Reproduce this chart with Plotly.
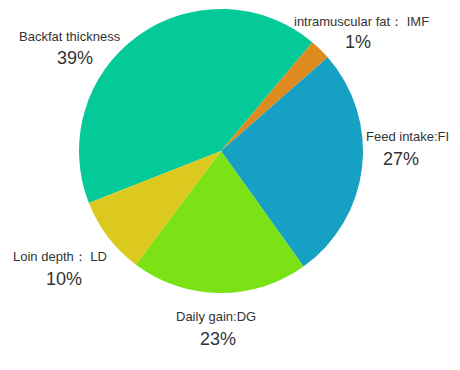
import plotly.graph_objects as go

# Slice sizes (clockwise, starting with Backfat)
labels = ["Backfat thickness", "intramuscular fat： IMF", "Feed intake:FI",
          "Daily gain:DG", "Loin depth： LD"]
values = [42.1, 2.4, 26.6, 20.1, 8.8]
pct_text = ["39%", "1%", "27%", "23%", "10%"]
colors = ["#04CA9A", "#DE8A1F", "#16A0C3", "#7BE216", "#DBC91F"]

# Page has an 8px body margin; figure is sized/offset to compensate
W, H = 452, 354
OFF = 8
cx, cy, R = 221 - OFF, 151 - OFF, 142

# label anchor positions (page pixels): name centre, percent centre
name_pos = [(70, 37), (361, 21), (407, 137), (216, 316), (60, 256)]
pct_pos = [(75, 58), (358, 42), (401, 159), (218, 339), (64, 279)]

FONT = "Liberation Sans, Arial, sans-serif"

fig = go.Figure(go.Pie(
    labels=labels,
    values=values,
    sort=False,
    direction="clockwise",
    rotation=248.5,
    marker=dict(colors=colors, line=dict(width=0)),
    textinfo="none",
    hoverinfo="skip",
    showlegend=False,
    automargin=False,
    domain=dict(x=[(cx - R) / W, (cx + R) / W],
                y=[1 - (cy + R) / H, 1 - (cy - R) / H]),
))

annotations = []
for name, pct, (nx, ny), (px, py) in zip(labels, pct_text, name_pos, pct_pos):
    annotations.append(dict(
        text=name, x=(nx - OFF) / W, y=1 - (ny - OFF) / H, xref="paper", yref="paper",
        xanchor="center", yanchor="middle", showarrow=False,
        font=dict(family=FONT, size=13, color="#333333")))
    annotations.append(dict(
        text=pct, x=(px - OFF) / W, y=1 - (py - OFF) / H, xref="paper", yref="paper",
        xanchor="center", yanchor="middle", showarrow=False,
        font=dict(family=FONT, size=18, color="#333333")))

fig.update_layout(
    width=W, height=H,
    margin=dict(l=0, r=0, t=0, b=0),
    paper_bgcolor="white",
    plot_bgcolor="white",
    annotations=annotations,
)

fig.write_html("out.html")
